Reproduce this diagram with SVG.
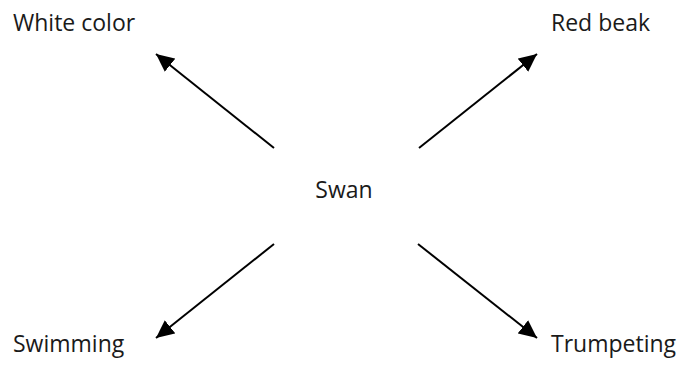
<svg xmlns="http://www.w3.org/2000/svg" width="683" height="372" viewBox="0 0 683 372">
<style>
text{font-family:"Open Sans","Noto Sans","Liberation Sans",sans-serif;font-size:23px;fill:#1a1a1a}
.c{stroke:#000;stroke-width:2;fill:none;marker-end:url(#ah)}
</style>
<defs>
<marker id="ah" viewBox="0 0 10 10" refX="10" refY="5" markerWidth="9" markerHeight="9" markerUnits="strokeWidth" orient="auto">
<path d="M0,0.3 L10,5 L0,9.7 z" fill="#000"/>
</marker>
</defs>
<rect width="683" height="372" fill="#fff"/>
<g id="swan"><text x="344" y="198" text-anchor="middle">Swan</text></g>
<g id="white-color"><text x="13" y="31">White color</text></g>
<g id="red-beak"><text x="551" y="31">Red beak</text></g>
<g id="swimming"><text x="13" y="352">Swimming</text></g>
<g id="trumpeting"><text x="551" y="352">Trumpeting</text></g>
<g id="connectors">
<line class="c" x1="274" y1="148" x2="156" y2="54"/>
<line class="c" x1="419" y1="148" x2="537" y2="54"/>
<line class="c" x1="274" y1="244" x2="156" y2="338"/>
<line class="c" x1="418" y1="244" x2="537" y2="338"/>
</g>
</svg>
